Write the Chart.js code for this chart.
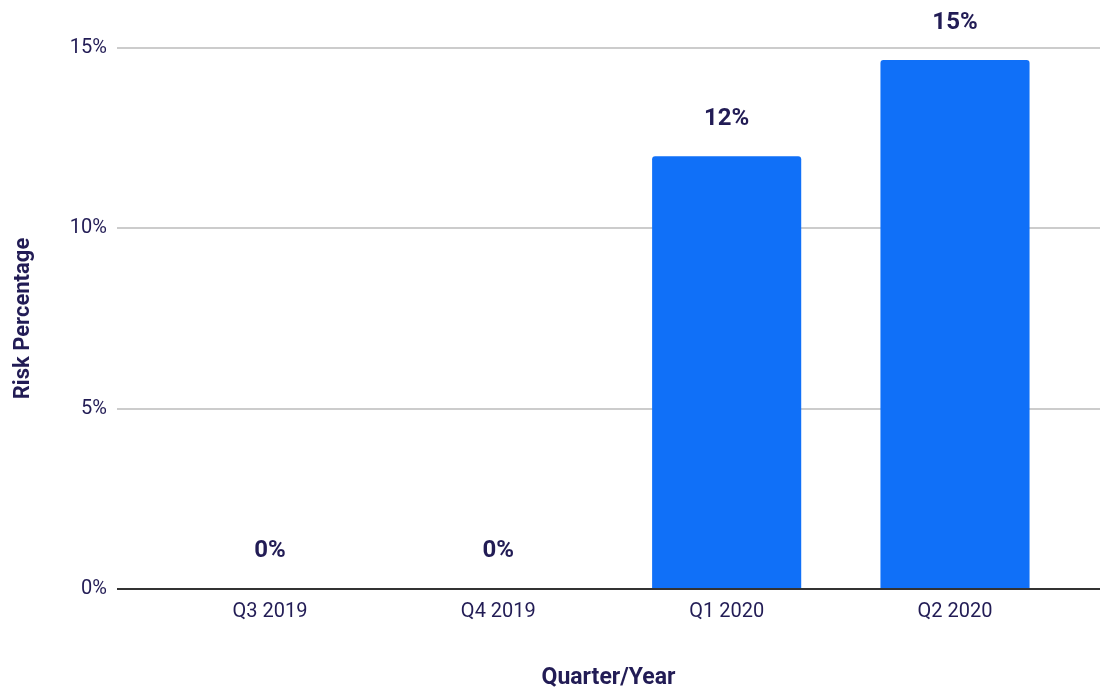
<!DOCTYPE html>
<html>
<head>
<meta charset="utf-8">
<script src="https://cdn.jsdelivr.net/npm/chart.js@4"></script>
<style>
  html, body { margin: 0; padding: 0; background: #fff; }
  #wrap { width: 1100px; height: 688px; }
</style>
</head>
<body>
<div id="wrap"><canvas id="riskChart" width="1100" height="688"></canvas></div>
<script>
const quarters = ["Q3 2019", "Q4 2019", "Q1 2020", "Q2 2020"];
const riskValues = [0.03, 0.03, 12.0, 14.67];
const valueLabels = ["0%", "0%", "12%", "15%"];
const yTicks = [0, 5, 10, 15];

const ink = "#221c55";

// draws the bold value over each bar
const barValueLabels = {
  id: "barValueLabels",
  afterDatasetsDraw(chart) {
    const ctx = chart.ctx;
    const meta = chart.getDatasetMeta(0);
    ctx.save();
    ctx.font = "bold 24px Roboto";
    ctx.fillStyle = ink;
    ctx.textAlign = "center";
    ctx.textBaseline = "middle";
    meta.data.forEach((bar, i) => {
      ctx.fillText(valueLabels[i], bar.x, bar.y - 37);
    });
    ctx.restore();
  },
};

const ctx = document.getElementById("riskChart").getContext("2d");
new Chart(ctx, {
  type: "bar",
  data: {
    datasets: [
      {
        data: quarters.map((q, i) => ({ x: i, y: riskValues[i] })),
        backgroundColor: "#1070f8",
        borderRadius: { topLeft: 3, topRight: 3 },
        borderSkipped: "bottom",
        barPercentage: 0.653,
        categoryPercentage: 1,
      },
    ],
  },
  options: {
    responsive: false,
    animation: false,
    devicePixelRatio: 1,
    layout: { padding: { top: 48, right: 0, left: 0, bottom: 0 } },
    plugins: {
      legend: { display: false },
      tooltip: { enabled: false },
    },
    scales: {
      x: {
        type: "linear",
        offset: false,
        min: -0.67,
        max: 3.635,
        afterBuildTicks: (scale) => {
          scale.ticks = quarters.map((q, i) => ({ value: i }));
        },
        afterFit: (scale) => {
          scale.height = 99;
        },
        grid: { display: false, drawTicks: false },
        border: { display: false },
        ticks: {
          padding: 11,
          color: ink,
          font: { family: "Roboto", size: 20 },
          callback: (v) => quarters[v],
        },
        title: {
          display: true,
          text: "Quarter/Year",
          color: ink,
          font: { family: "Roboto", size: 23, weight: "bold" },
          padding: { top: 0, bottom: -4 },
        },
      },
      y: {
        min: 0,
        max: 15,
        afterBuildTicks: (scale) => {
          scale.ticks = yTicks.map((v) => ({ value: v }));
        },
        afterFit: (scale) => {
          scale.width = 117;
        },
        grid: {
          color: (c) => (c.tick.value === 0 ? "#333333" : "#cccccc"),
          lineWidth: 2,
          drawTicks: false,
        },
        border: { display: false },
        ticks: {
          padding: 10,
          color: ink,
          font: { family: "Roboto", size: 20 },
          callback: (v) => v + "%",
        },
        title: {
          display: true,
          text: "Risk Percentage",
          color: ink,
          font: { family: "Roboto", size: 22, weight: "bold" },
          padding: { top: 10, bottom: 0 },
        },
      },
    },
  },
  plugins: [barValueLabels],
});
</script>
</body>
</html>
